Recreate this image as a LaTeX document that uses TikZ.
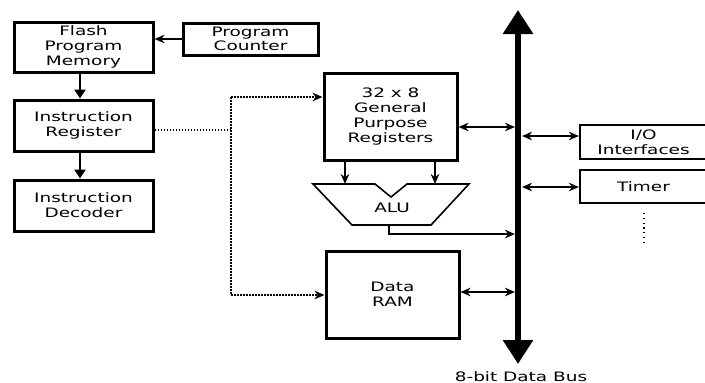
\documentclass[tikz,border=0pt]{standalone}
\usepackage{fontspec}
\setmainfont{DejaVu Sans}[FakeStretch=1.42]
\usetikzlibrary{arrows.meta}

\tikzset{
  blk/.style={draw, line width=3pt, rectangle, align=center, inner sep=0pt,
              font=\fontsize{13}{14.7}\selectfont},
  sblk/.style={blk, line width=2.2pt},
  thickarr/.style={line width=2.6pt, -{Triangle[length=9pt,width=11pt]}},
  arr/.style={line width=1.7pt, -{Stealth[length=10pt,width=8.5pt]}},
  dbl/.style={line width=1.7pt, {Stealth[length=10pt,width=8.5pt]}-{Stealth[length=10pt,width=8.5pt]}},
  dotline/.style={line width=1.6pt, dash pattern=on 1.6pt off 1.4pt},
  busline/.style={line width=6pt, {Triangle[length=24pt,width=29pt]}-{Triangle[length=24pt,width=29pt]}},
  lbl/.style={font=\fontsize{13}{14.7}\selectfont, inner sep=0pt}
}

\begin{document}
\begin{tikzpicture}[x=1pt, y=-1pt]
\useasboundingbox (0,0) rectangle (705,383);

% control path blocks
\node[blk, minimum width=139pt, minimum height=50pt] (fpm) at (83.5,47) {Flash\\Program\\Memory};
\node[blk, minimum width=135pt, minimum height=32pt] (pc) at (250.5,39) {Program\\Counter};
\node[blk, minimum width=139pt, minimum height=51pt] (ir) at (83.5,125.5) {Instruction\\Register};
\node[blk, minimum width=139pt, minimum height=51pt] (idec) at (83.5,205.5) {Instruction\\Decoder};

% data path blocks
\node[blk, minimum width=133pt, minimum height=87pt] (gpr) at (390.5,116.5) {32 x 8\\General\\Purpose\\Registers};
\node[blk, minimum width=133pt, minimum height=87pt] (ram) at (392.5,294.5) {Data\\RAM};

% peripherals, cut off at the right edge
\node[sblk, minimum width=130pt, minimum height=34pt, text width=127pt] (io) at (645,142) {\hspace*{-3pt}I/O\\\hspace*{-3pt}Interfaces};
\node[sblk, minimum width=130pt, minimum height=33pt, text width=127pt] (timer) at (645,186.5) {\hspace*{-3pt}Timer};

% ALU
\coordinate (alutl) at (313,184);
\coordinate (alun1) at (375,184);
\coordinate (alunb) at (391,197);
\coordinate (alun2) at (407,184);
\coordinate (alutr) at (469,184);
\coordinate (alubr) at (431,225);
\coordinate (alubl) at (352,225);
\draw[line width=1.6pt, line join=miter] (alutl) -- (alun1) -- (alunb) -- (alun2) -- (alutr) -- (alubr) -- (alubl) -- cycle;
\node[lbl] (alu) at (392,208) {ALU};

% data bus
\coordinate (bustop) at (518,10);
\coordinate (busbot) at (518,364);
\draw[busline] (busbot) -- (bustop);
\node[lbl, anchor=base] (buslbl) at (521,381) {8-bit Data Bus};

% control connectors
\draw[arr] (pc.west) -- (pc.west -| fpm.east);
\draw[thickarr] ([xshift=-3.5pt]fpm.south) -- ([xshift=-3.5pt]ir.north);
\draw[thickarr] ([xshift=-3.5pt]ir.south) -- ([xshift=-3.5pt]idec.north);

% dotted control lines
\coordinate (dj) at (231,130);
\coordinate (dtop) at (231,97);
\coordinate (dbot) at (231,295);
\draw[dotline] (dj -| ir.east) -- (dj);
\draw[dotline] (dtop) -- (dbot);
\draw[dotline, -{Stealth[length=10pt,width=8.5pt]}] (dtop) -- (dtop -| gpr.west);
\draw[dotline, -{Stealth[length=10pt,width=8.5pt]}] (dbot) -- (dbot -| ram.west);

% registers to ALU
\coordinate (ain1) at (345,184);
\coordinate (ain2) at (435,184);
\draw[arr] (ain1 |- gpr.south) -- (ain1);
\draw[arr] (ain2 |- gpr.south) -- (ain2);

% ALU result to bus
\coordinate (aluout) at (389,225);
\coordinate (bal) at (515,234);
\draw[arr] (aluout) -- (aluout |- bal) -- (bal);

% bus connections
\coordinate (bgpr) at (515,127);
\draw[dbl] (bgpr -| gpr.east) -- (bgpr);
\coordinate (bram) at (515,292);
\draw[dbl] (bram -| ram.east) -- (bram);
\coordinate (bio) at (522,136);
\draw[dbl] (bio) -- (bio -| io.west);
\coordinate (btim) at (522,187);
\draw[dbl] (btim) -- (btim -| timer.west);

% more peripherals
\coordinate (more1) at (644,213);
\coordinate (more2) at (644,244);
\draw[line width=1.2pt, dash pattern=on 1.2pt off 3.6pt] (more1) -- (more2);
\end{tikzpicture}
\end{document}
